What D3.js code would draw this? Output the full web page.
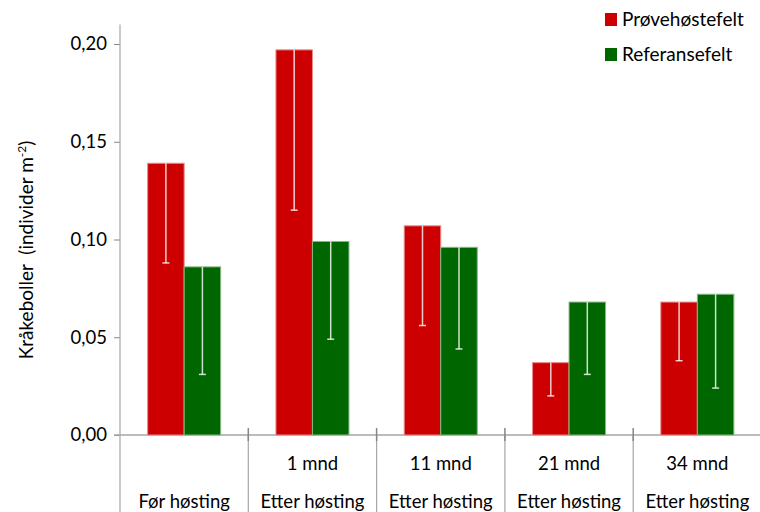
<!DOCTYPE html>
<html>
<head>
<meta charset="utf-8">
<script src="https://cdn.jsdelivr.net/npm/d3@7"></script>
<style>
  html, body { margin: 0; padding: 0; background: #fff; }
  svg { display: block; font-family: Lato, "Open Sans", sans-serif; }
</style>
</head>
<body>
<svg id="chart" width="760" height="512"></svg>
<script>
// Sea urchin density before and after harvesting
const categories = ["Før høsting", "1 mnd", "11 mnd", "21 mnd", "34 mnd"];
const monthLabels = ["", "1 mnd", "11 mnd", "21 mnd", "34 mnd"];
const phaseLabels = ["Før høsting", "Etter høsting", "Etter høsting", "Etter høsting", "Etter høsting"];
const seriesNames = ["Prøvehøstefelt", "Referansefelt"];
const harvestValues = [0.139, 0.197, 0.107, 0.037, 0.068];
const referenceValues = [0.086, 0.099, 0.096, 0.068, 0.072];
const harvestErrors = [0.051, 0.082, 0.051, 0.017, 0.030];
const referenceErrors = [0.055, 0.050, 0.052, 0.037, 0.048];
const yTicks = [0, 0.05, 0.10, 0.15, 0.20];

const colors = { "Prøvehøstefelt": "#cc0000", "Referansefelt": "#006600" };
const edges = { "Prøvehøstefelt": "#e88a8a", "Referansefelt": "#86b886" };

const svg = d3.select("#chart");
const plotLeft = 120, plotRight = 761.5, baseY = 435;

const y = d3.scaleLinear().domain([0, 0.21]).range([baseY, baseY - 0.21 * 1955]);
const x0 = d3.scaleBand().domain(categories).range([plotLeft, plotRight]).paddingInner(0).paddingOuter(0);
const x1 = d3.scaleBand().domain(seriesNames).range([0, x0.bandwidth()]).paddingInner(0).paddingOuter(0.757);

const rows = categories.map((c, i) => ({
  cat: c,
  items: [
    { s: seriesNames[0], v: harvestValues[i], e: harvestErrors[i] },
    { s: seriesNames[1], v: referenceValues[i], e: referenceErrors[i] }
  ]
}));

// Y axis
const yAxis = d3.axisLeft(y).tickValues(yTicks).tickSize(6).tickPadding(7)
  .tickFormat(d => d3.format(".2f")(d).replace(".", ","));
const gy = svg.append("g").attr("transform", `translate(${plotLeft},0)`).call(yAxis);
gy.select(".domain").remove();
gy.selectAll(".tick line").attr("stroke", "#868686");
gy.selectAll(".tick text").attr("font-size", "18.5px").attr("fill", "#000")
  .attr("font-family", "Lato, sans-serif");
svg.append("line").attr("x1", plotLeft).attr("x2", plotLeft)
  .attr("y1", y(0.21)).attr("y2", 512).attr("stroke", "#a6a6a6").attr("stroke-width", 1.2);

// Baseline
svg.append("line").attr("x1", plotLeft - 6).attr("x2", 760)
  .attr("y1", baseY).attr("y2", baseY).attr("stroke", "#a6a6a6").attr("stroke-width", 1.5);

// Category separators
const bounds = categories.slice(1).map(c => x0(c));
bounds.forEach(bx => {
  svg.append("line").attr("x1", bx).attr("x2", bx).attr("y1", baseY).attr("y2", 512)
    .attr("stroke", "#a6a6a6").attr("stroke-width", 1.2);
  svg.append("line").attr("x1", bx).attr("x2", bx).attr("y1", baseY - 7).attr("y2", baseY + 6)
    .attr("stroke", "#868686").attr("stroke-width", 1.5);
});

// Bars
const groups = svg.append("g").selectAll("g").data(rows).join("g")
  .attr("transform", d => `translate(${x0(d.cat)},0)`);
groups.selectAll("rect").data(d => d.items).join("rect")
  .attr("x", d => x1(d.s))
  .attr("y", d => y(d.v))
  .attr("width", x1.bandwidth())
  .attr("height", d => y(0) - y(d.v))
  .attr("fill", d => colors[d.s])
  .attr("stroke", d => edges[d.s])
  .attr("stroke-width", 1);

// Error bars (minus direction)
const eb = groups.selectAll("g.err").data(d => d.items).join("g").attr("class", "err")
  .attr("stroke", "#ffffff").attr("stroke-opacity", 0.8).attr("stroke-width", 1.5);
eb.append("line")
  .attr("x1", d => x1(d.s) + x1.bandwidth() / 2).attr("x2", d => x1(d.s) + x1.bandwidth() / 2)
  .attr("y1", d => y(d.v)).attr("y2", d => y(d.v - d.e));
eb.append("line")
  .attr("x1", d => x1(d.s) + x1.bandwidth() / 2 - 3.5).attr("x2", d => x1(d.s) + x1.bandwidth() / 2 + 3.5)
  .attr("y1", d => y(d.v - d.e)).attr("y2", d => y(d.v - d.e));

// Category labels (two levels)
const labels = svg.append("g").attr("font-size", "18.5px").attr("fill", "#000").attr("text-anchor", "middle");
labels.selectAll("text.m").data(categories).join("text").attr("class", "m")
  .attr("x", d => x0(d) + x0.bandwidth() / 2).attr("y", 470)
  .text((d, i) => monthLabels[i]);
labels.selectAll("text.p").data(categories).join("text").attr("class", "p")
  .attr("x", d => x0(d) + x0.bandwidth() / 2).attr("y", 508)
  .text((d, i) => phaseLabels[i]);

// Y axis title
const yt = svg.append("text").attr("transform", "translate(33,250) rotate(-90)")
  .attr("text-anchor", "middle").attr("font-size", "19px").attr("fill", "#000")
  .style("white-space", "pre");
yt.append("tspan").text("Kråkeboller\u00A0\u00A0(individer m");
yt.append("tspan").attr("font-size", "12px").attr("dy", "-7").text("-2");
yt.append("tspan").attr("dy", "7").text(")");

// Legend
const legend = svg.append("g").selectAll("g").data(seriesNames).join("g")
  .attr("transform", (d, i) => `translate(605,${13 + i * 35})`);
legend.append("rect").attr("width", 12).attr("height", 13).attr("fill", d => colors[d]);
legend.append("text").attr("x", 17).attr("y", 12.5).attr("font-size", "19px").attr("fill", "#000").text(d => d);
</script>
</body>
</html>
